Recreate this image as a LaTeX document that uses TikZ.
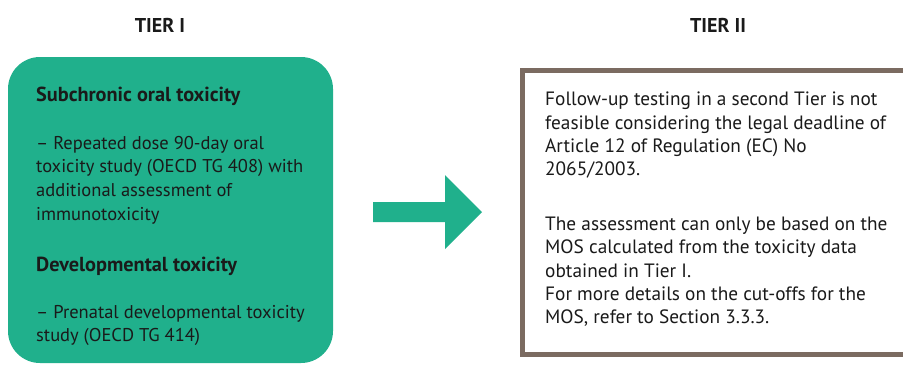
\documentclass[tikz,border=0pt]{standalone}
\usepackage{fontspec}
\setmainfont{PT Sans}
\definecolor{tiergreen}{HTML}{20B08C}
\definecolor{tierbrown}{HTML}{7B6B61}
\definecolor{txt}{HTML}{1A1A1A}
\tikzset{
  head/.style={font=\bfseries\fontsize{20}{22}\selectfont, text=txt, inner sep=0pt},
  body/.style={font=\fontsize{18.5}{23.6}\selectfont, text=txt, align=left, anchor=north west, inner sep=0pt},
  bodyr/.style={body, font=\fontsize{19.3}{23.2}\selectfont},
  subhead/.style={body, font=\bfseries\fontsize{20.3}{24}\selectfont},
}
\begin{document}
\begin{tikzpicture}[x=1pt,y=-1pt]
\useasboundingbox (0,0) rectangle (903,365);
\clip (0,0) rectangle (903,365);
\fill[white] (0,0) rectangle (903,365);
% headings
\node[head] (t1) at (160,25) {TIER I};
\node[head] (t2) at (718,25) {TIER II};
% green box
\fill[tiergreen, rounded corners=32pt] (8,57) rectangle (333,363);
\node[subhead] (s1) at (36,87) {Subchronic oral toxicity};
\node[body] (s1b) at (36,136) {– Repeated dose 90-day oral\\toxicity study (OECD TG 408) with\\additional assessment of\\immunotoxicity};
\node[subhead] (s2) at (36,257) {Developmental toxicity};
\node[body] (s2b) at (36,305) {– Prenatal developmental toxicity\\study (OECD TG 414)};
% arrow
\fill[tiergreen] (373,202) -- (445,202) -- (445,175) -- (482,212) -- (445,249) -- (445,222) -- (373,222) -- cycle;
% brown box
\draw[tierbrown, line width=5pt] (522.5,70.5) rectangle (915,354.5);
\node[bodyr] (r1) at (545,92) {Follow-up testing in a second Tier is not\\feasible considering the legal deadline of\\Article 12 of Regulation (EC) No\\2065/2003.};
\node[bodyr] (r2) at (545,217) {The assessment can only be based on the\\MOS calculated from the toxicity data\\obtained in Tier I.\\For more details on the cut-offs for the\\MOS, refer to Section 3.3.3.};
\end{tikzpicture}
\end{document}
